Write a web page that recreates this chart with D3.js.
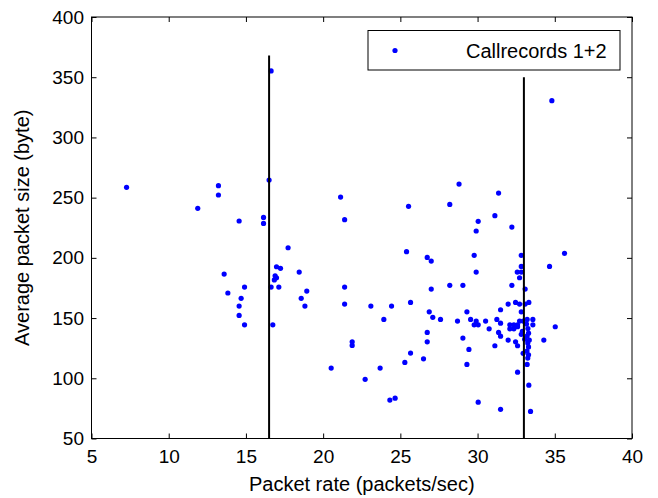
<!DOCTYPE html>
<html>
<head>
<meta charset="utf-8">
<script src="https://cdn.jsdelivr.net/npm/d3@7"></script>
<style>
html,body{margin:0;padding:0;background:#fff;}
svg{display:block;font-family:"Liberation Sans",Arial,sans-serif;}
</style>
</head>
<body>
<svg id="chart" width="658" height="498"></svg>
<script>
// ---- data ----
const packetRate = [
 7.27,11.88,13.22,13.22,14.56,16.14,16.14,16.5,16.63,
 13.59,13.83,14.91,14.69,14.56,14.56,14.91,16.74,16.63,17.13,
 16.98,17.24,16.84,16.98,16.89,17.73,18.45,18.94,18.58,18.82,
 21.13,21.39,21.39,21.39,23.09,24.43,23.93,25.66,25.4,25.53,26.74,27.0,27.0,26.87,27.1,27.6,28.7,28.2,28.2,28.8,26.74,26.74,21.88,21.88,20.52,22.72,23.69,25.29,25.66,26.5,24.32,24.66,
 31.36,31.12,30.04,29.91,32.22,29.78,29.91,29.05,32.83,32.83,32.57,32.83,32.72,32.22,33.08,35.63,34.66,35.03,34.29,34.81,
 31.98,32.46,32.72,33.08,33.32,
 31.49,32.83,29.31,29.55,29.91,29.78,30.04,30.52,30.75,31.25,31.49,31.36,31.49,31.12,31.98,
 32.09,32.35,32.59,32.09,32.35,32.59,
 32.72,32.95,33.21,33.58,33.58,32.83,32.46,32.59,32.95,33.21,32.59,33.32,30.04,31.49,33.43,29.05,29.44,29.31,
 33.26,33.3,33.2,33.35,33.25,33.3,33.2,33.3,33.25,33.05,33.17,32.9
];
const packetSize = [
 258.6,241.1,259.9,252.2,230.6,233.6,228.6,264.6,355.2,
 186.5,170.8,175.7,166.4,160,152.2,144.4,144.4,175.7,175.7,
 192.6,191.3,181.7,183.5,185.1,208.4,188.2,172.4,166.4,160,
 250.5,231.7,175.7,161.6,160,160,148.9,163,205.1,242.8,200.4,197.3,174.1,155.2,150.6,148.9,147.5,177.2,244.4,261.3,138.1,130.3,130.3,127.3,108.5,99.1,108.5,113.2,120.9,116.2,81.9,83.5,
 253.8,235,230.3,222.3,225.6,202.1,188.2,177.2,202.1,192.9,188.2,188.2,183.5,177.2,174.1,203.7,192.9,142.8,131.7,330.5,
 161.6,163,161.6,161.6,163,
 156.9,155.2,155.2,148.9,147.5,144.4,144.4,147.5,141.1,148.9,145.8,138.1,135.0,127,131.7,
 144.4,144.4,144.4,141.1,141.1,142.8,
 147.5,147.5,148.9,148.9,144.4,136.5,130.3,127,120.7,111.5,105.1,94.3,80.2,74.2,72.5,133.4,124,111.5,
 141.3,137.5,135,131.7,129.2,126,122.6,119.5,116.8,132.5,145,139
];
const lineX = [16.5, 33];
const lineTop = [368, 350];
const xTicks = [5,10,15,20,25,30,35,40];
const yTicks = [50,100,150,200,250,300,350,400];
const seriesName = "Callrecords 1+2";
const xLabel = "Packet rate (packets/sec)";
const yLabel = "Average packet size (byte)";

// ---- layout ----
const L = 91.5, T = 17, R = 632, B = 438.5;
const svg = d3.select("#chart");
const x = d3.scaleLinear().domain([5,40]).range([L,R]);
const y = d3.scaleLinear().domain([50,400]).range([B,T]);
const FS = 20, TFS = 19;

// points
const pts = packetRate.map((v,i)=>({x:v,y:packetSize[i]}));
svg.append("g").selectAll("circle").data(pts).join("circle")
  .attr("cx",d=>x(d.x)).attr("cy",d=>y(d.y)).attr("r",2.6)
  .attr("fill","#0000ff");

// vertical lines
svg.append("g").selectAll("line").data(lineX).join("line")
  .attr("x1",d=>x(d)).attr("x2",d=>x(d))
  .attr("y1",y(50)).attr("y2",(d,i)=>y(lineTop[i]))
  .attr("stroke","#000").attr("stroke-width",2);

// axes
function style(g){
  g.select(".domain").remove();
  g.selectAll("line").attr("stroke","#000");
  g.selectAll("text").attr("fill","#000").style("font-size",TFS+"px").style("font-family",'"Liberation Sans",Arial,sans-serif');
}
svg.append("g").attr("transform",`translate(0,${B})`)
  .call(d3.axisBottom(x).tickValues(xTicks).tickSize(-5).tickSizeOuter(0).tickPadding(11.5).tickFormat(d3.format("d")))
  .call(style);
svg.append("g").attr("transform",`translate(0,${T})`)
  .call(d3.axisTop(x).tickValues(xTicks).tickSize(-5).tickSizeOuter(0).tickFormat(""))
  .call(style);
svg.append("g").attr("transform",`translate(${L},0)`)
  .call(d3.axisLeft(y).tickValues(yTicks).tickSize(-5).tickSizeOuter(0).tickPadding(7.5).tickFormat(d3.format("d")))
  .call(style);
svg.append("g").attr("transform",`translate(${R},0)`)
  .call(d3.axisRight(y).tickValues(yTicks).tickSize(-5).tickSizeOuter(0).tickFormat(""))
  .call(style);

// box
svg.append("rect").attr("x",L).attr("y",T).attr("width",R-L).attr("height",B-T)
  .attr("fill","none").attr("stroke","#000").attr("stroke-width",1);

// labels
svg.append("text").attr("x",(L+R)/2).attr("y",491).attr("text-anchor","middle")
  .style("font-size",FS+"px").attr("fill","#000").text(xLabel);
svg.append("text").attr("transform",`translate(29,${(T+B)/2}) rotate(-90)`).attr("text-anchor","middle")
  .style("font-size",FS+"px").attr("fill","#000").text(yLabel);

// legend
const lg = svg.append("g");
lg.append("rect").attr("x",368).attr("y",30.5).attr("width",252).attr("height",39.5)
  .attr("fill","#fff").attr("stroke","#000").attr("stroke-width",1);
lg.append("circle").attr("cx",395).attr("cy",50.5).attr("r",2.6).attr("fill","#0000ff");
lg.append("text").attr("x",466).attr("y",57.5).style("font-size",FS+"px").attr("fill","#000").text(seriesName);
</script>
</body>
</html>
